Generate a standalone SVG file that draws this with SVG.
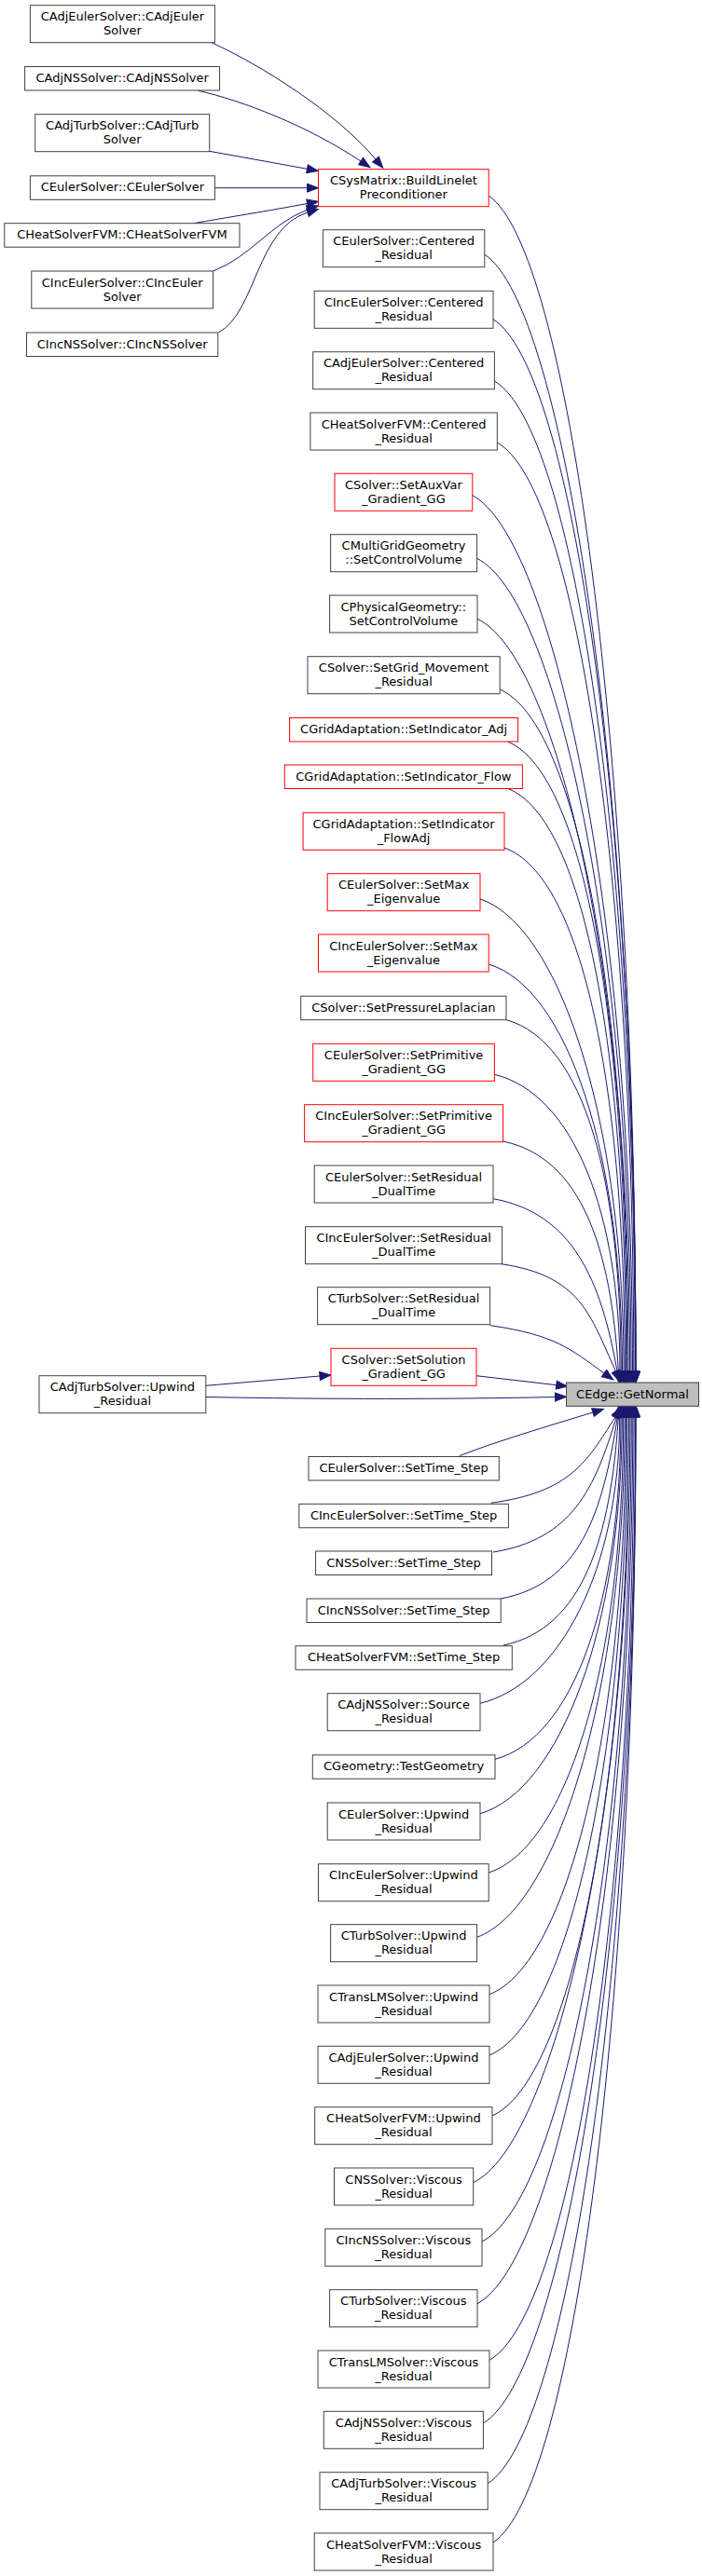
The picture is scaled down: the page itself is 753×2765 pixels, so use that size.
<svg xmlns="http://www.w3.org/2000/svg" width="753" height="2765" viewBox="0 0 753 2765">
<style>
text{font-family:"DejaVu Sans","Liberation Sans",sans-serif;font-size:13px;text-anchor:middle;fill:#000}
.n rect{fill:#fff;stroke:#404040;stroke-width:1}
.r rect{fill:#fff;stroke:#ff0000;stroke-width:1}
.c rect{fill:#bfbfbf;stroke:#404040;stroke-width:1}
#edges path{fill:none;stroke:#191970;stroke-width:1;marker-end:url(#ah)}
</style>
<defs>
<marker id="ah" viewBox="0 0 12 9" refX="0" refY="4.5" markerWidth="12" markerHeight="9" markerUnits="userSpaceOnUse" orient="auto" overflow="visible"><path d="M0,0 L12,4.5 L0,9 Z" fill="#191970" stroke="#191970" stroke-width="1"/></marker>
</defs>
<rect x="0" y="0" width="753" height="2765" fill="#fff"/>
<g id="edges">
<path d="M227,45.7 C280,70 360,120 403,171"/>
<path d="M212.6,97.3 C260,108 330,135 387,173"/>
<path d="M224.6,162.3 L329.5,181.3"/>
<path d="M230.4,201.7 L329.5,201.7"/>
<path d="M207.7,239.7 C240,234 290,226 329.6,218.5"/>
<path d="M228.5,291 C270,275 290,240 330,225"/>
<path d="M234.3,357 C275,335 275,245 330,228"/>
<path d="M524.2,210 C609,268.5 682,803 682,1472"/>
<path d="M520,273.3 C605,329.3 682,836.7 682,1472"/>
<path d="M529,342.7 C614,395.9 682,873.5 682,1472"/>
<path d="M530.4,409 C615.4,459.5 681.2,908.6 681.2,1472"/>
<path d="M533.3,475 C618.3,522.9 679.8,943.6 679.8,1472"/>
<path d="M506.8,531.7 C591.8,577.3 678.5,973.6 678.5,1472"/>
<path d="M511.6,599.3 C596.6,642.2 677,1009.5 677,1472"/>
<path d="M512,664.3 C597,704.6 675.6,1043.9 675.6,1472"/>
<path d="M536.2,740 C621.2,777.3 674,1084 674,1472"/>
<path d="M544.4,796 C629.4,831 672.8,1113.7 672.8,1472"/>
<path d="M544.4,846.3 C629.4,879.3 671.7,1140.4 671.7,1472"/>
<path d="M541,910 C626,940.5 670.3,1174.1 670.3,1472"/>
<path d="M515,965 C600,993.3 669.1,1203.3 669.1,1472"/>
<path d="M524.2,1035 C609.2,1060.5 667.5,1240.4 667.5,1472"/>
<path d="M543,1094.7 C628,1117.8 666.2,1272 666.2,1472"/>
<path d="M530.4,1153.3 C615.4,1174 665,1303.1 665,1472"/>
<path d="M539.6,1225 C624.6,1242.9 655.4,1341.1 663.4,1472"/>
<path d="M529,1286.7 C614,1302.1 644.8,1373.8 662,1472"/>
<path d="M537.7,1356.7 C622.7,1369.3 632.8,1410.9 660.5,1472"/>
<path d="M525.6,1422.7 C595.6,1432.7 612,1448 648,1474"/>
<path d="M511,1476.7 L596.8,1486.7"/>
<path d="M220.8,1487.3 L343,1477"/>
<path d="M220.8,1499.5 C350,1502 480,1502 595.5,1499.5"/>
<path d="M492.8,1562.7 C530,1548 590,1530 636,1516"/>
<path d="M526.6,1613.3 C611.6,1601.6 628.9,1569.9 660,1521"/>
<path d="M529,1666 C614,1652.2 637.9,1597.8 661.2,1521"/>
<path d="M537,1716 C622,1700.2 646.5,1624.4 662.3,1521"/>
<path d="M540,1766 C625,1748.2 655.1,1650.8 663.3,1521"/>
<path d="M515,1828.3 C600,1808 664.7,1683.9 664.7,1521"/>
<path d="M531,1888.3 C616,1865.6 666,1715.7 666,1521"/>
<path d="M515,1946.7 C600,1921.7 667.3,1746.6 667.3,1521"/>
<path d="M524.2,2010 C609.2,1982.4 668.7,1780.2 668.7,1521"/>
<path d="M511.6,2079.3 C596.6,2049 670.2,1816.9 670.2,1521"/>
<path d="M525,2140.7 C610,2107.9 671.5,1849.4 671.5,1521"/>
<path d="M525,2206 C610,2170.6 672.9,1884 672.9,1521"/>
<path d="M528,2271 C613,2233 674.4,1918.5 674.4,1521"/>
<path d="M507.7,2342.7 C592.7,2301.8 675.9,1956.5 675.9,1521"/>
<path d="M517,2406 C602,2362.6 677.3,1990 677.3,1521"/>
<path d="M512,2472.7 C597,2426.6 678.8,2025.4 678.8,1521"/>
<path d="M525,2533.3 C610,2484.8 680.1,2057.5 680.1,1521"/>
<path d="M518.4,2601 C603.4,2549.8 681.6,2093.4 681.6,1521"/>
<path d="M523.2,2665.7 C608.2,2611.9 682,2127.7 682,1521"/>
<path d="M529,2729 C614,2672.7 682,2161.2 682,1521"/>
</g>
<g id="n1" class="n"><rect x="32.4" y="5.7" width="198" height="40"/><text x="131.4" y="22.2">CAdjEulerSolver::CAdjEuler</text><text x="131.4" y="37.2">Solver</text></g>
<g id="n2" class="n"><rect x="26.6" y="71.5" width="209" height="25.5"/><text x="131.1" y="88">CAdjNSSolver::CAdjNSSolver</text></g>
<g id="n3" class="n"><rect x="37.7" y="122.7" width="187" height="40"/><text x="131.2" y="139.2">CAdjTurbSolver::CAdjTurb</text><text x="131.2" y="154.2">Solver</text></g>
<g id="n4" class="n"><rect x="32.4" y="188.8" width="198" height="25.5"/><text x="131.4" y="205.3">CEulerSolver::CEulerSolver</text></g>
<g id="n5" class="r"><rect x="341.5" y="181.7" width="182.7" height="40"/><text x="432.9" y="198.2">CSysMatrix::BuildLinelet</text><text x="432.9" y="213.2">Preconditioner</text></g>
<g id="n6" class="n"><rect x="4.8" y="239.7" width="252.2" height="25.5"/><text x="130.9" y="256.2">CHeatSolverFVM::CHeatSolverFVM</text></g>
<g id="n7" class="n"><rect x="33.8" y="291" width="194.7" height="40"/><text x="131.2" y="307.5">CIncEulerSolver::CIncEuler</text><text x="131.2" y="322.5">Solver</text></g>
<g id="n8" class="n"><rect x="28.5" y="357" width="205.3" height="25.5"/><text x="131.2" y="373.5">CIncNSSolver::CIncNSSolver</text></g>
<g id="n9" class="n"><rect x="346.4" y="246.7" width="173.4" height="40"/><text x="433.1" y="263.2">CEulerSolver::Centered</text><text x="433.1" y="278.2">_Residual</text></g>
<g id="n10" class="n"><rect x="337.2" y="312.3" width="191.8" height="40"/><text x="433.1" y="328.8">CIncEulerSolver::Centered</text><text x="433.1" y="343.8">_Residual</text></g>
<g id="n11" class="n"><rect x="335.7" y="377.7" width="194.7" height="40"/><text x="433.1" y="394.2">CAdjEulerSolver::Centered</text><text x="433.1" y="409.2">_Residual</text></g>
<g id="n12" class="n"><rect x="332.9" y="443" width="200.4" height="40"/><text x="433.1" y="459.5">CHeatSolverFVM::Centered</text><text x="433.1" y="474.5">_Residual</text></g>
<g id="n13" class="r"><rect x="359" y="508.3" width="147.8" height="40"/><text x="432.9" y="524.8">CSolver::SetAuxVar</text><text x="432.9" y="539.8">_Gradient_GG</text></g>
<g id="n14" class="n"><rect x="354.6" y="573.7" width="157" height="40"/><text x="433.1" y="590.2">CMultiGridGeometry</text><text x="433.1" y="605.2">::SetControlVolume</text></g>
<g id="n15" class="n"><rect x="353.6" y="639" width="158.4" height="40"/><text x="432.8" y="655.5">CPhysicalGeometry::</text><text x="432.8" y="670.5">SetControlVolume</text></g>
<g id="n16" class="n"><rect x="330" y="704.7" width="206.2" height="40"/><text x="433.1" y="721.2">CSolver::SetGrid_Movement</text><text x="433.1" y="736.2">_Residual</text></g>
<g id="n17" class="r"><rect x="310.6" y="770.5" width="245" height="25.5"/><text x="433.1" y="787">CGridAdaptation::SetIndicator_Adj</text></g>
<g id="n18" class="r"><rect x="305.3" y="821" width="255.1" height="25.5"/><text x="432.9" y="837.5">CGridAdaptation::SetIndicator_Flow</text></g>
<g id="n19" class="r"><rect x="325.1" y="872.3" width="215.9" height="40"/><text x="433" y="888.8">CGridAdaptation::SetIndicator</text><text x="433" y="903.8">_FlowAdj</text></g>
<g id="n20" class="r"><rect x="351.2" y="937.7" width="163.8" height="40"/><text x="433.1" y="954.2">CEulerSolver::SetMax</text><text x="433.1" y="969.2">_Eigenvalue</text></g>
<g id="n21" class="r"><rect x="341.5" y="1003" width="182.7" height="40"/><text x="432.9" y="1019.5">CIncEulerSolver::SetMax</text><text x="432.9" y="1034.5">_Eigenvalue</text></g>
<g id="n22" class="n"><rect x="322.7" y="1069.2" width="220.3" height="25.5"/><text x="432.9" y="1085.7">CSolver::SetPressureLaplacian</text></g>
<g id="n23" class="r"><rect x="335.7" y="1120.3" width="194.7" height="40"/><text x="433.1" y="1136.8">CEulerSolver::SetPrimitive</text><text x="433.1" y="1151.8">_Gradient_GG</text></g>
<g id="n24" class="r"><rect x="326.6" y="1185.7" width="213" height="40"/><text x="433.1" y="1202.2">CIncEulerSolver::SetPrimitive</text><text x="433.1" y="1217.2">_Gradient_GG</text></g>
<g id="n25" class="n"><rect x="337.2" y="1251" width="191.8" height="40"/><text x="433.1" y="1267.5">CEulerSolver::SetResidual</text><text x="433.1" y="1282.5">_DualTime</text></g>
<g id="n26" class="n"><rect x="327.5" y="1316.7" width="211.1" height="40"/><text x="433.1" y="1333.2">CIncEulerSolver::SetResidual</text><text x="433.1" y="1348.2">_DualTime</text></g>
<g id="n27" class="n"><rect x="340.6" y="1381.7" width="185" height="40"/><text x="433.1" y="1398.2">CTurbSolver::SetResidual</text><text x="433.1" y="1413.2">_DualTime</text></g>
<g id="n28" class="r"><rect x="355" y="1447.3" width="156" height="40"/><text x="433" y="1463.8">CSolver::SetSolution</text><text x="433" y="1478.8">_Gradient_GG</text></g>
<g id="n29" class="n"><rect x="42" y="1476.7" width="178.8" height="40"/><text x="131.4" y="1493.2">CAdjTurbSolver::Upwind</text><text x="131.4" y="1508.2">_Residual</text></g>
<g id="n30" class="c"><rect x="607.5" y="1484" width="142" height="25.3"/><text x="678.5" y="1500.5">CEdge::GetNormal</text></g>
<g id="n31" class="n"><rect x="331" y="1563.5" width="204.3" height="25.5"/><text x="433.1" y="1580">CEulerSolver::SetTime_Step</text></g>
<g id="n32" class="n"><rect x="320.8" y="1614.3" width="224.6" height="25.5"/><text x="433.1" y="1630.8">CIncEulerSolver::SetTime_Step</text></g>
<g id="n33" class="n"><rect x="338.6" y="1665" width="188.9" height="25.5"/><text x="433" y="1681.5">CNSSolver::SetTime_Step</text></g>
<g id="n34" class="n"><rect x="329" y="1716" width="208.2" height="25.5"/><text x="433.1" y="1732.5">CIncNSSolver::SetTime_Step</text></g>
<g id="n35" class="n"><rect x="317" y="1766.7" width="232.3" height="25.5"/><text x="433.1" y="1783.2">CHeatSolverFVM::SetTime_Step</text></g>
<g id="n36" class="n"><rect x="351.2" y="1817.7" width="163.8" height="40"/><text x="433.1" y="1834.2">CAdjNSSolver::Source</text><text x="433.1" y="1849.2">_Residual</text></g>
<g id="n37" class="n"><rect x="335.3" y="1883.8" width="195.7" height="25.5"/><text x="433.1" y="1900.3">CGeometry::TestGeometry</text></g>
<g id="n38" class="n"><rect x="351.2" y="1935" width="163.8" height="40"/><text x="433.1" y="1951.5">CEulerSolver::Upwind</text><text x="433.1" y="1966.5">_Residual</text></g>
<g id="n39" class="n"><rect x="341.5" y="2000.7" width="182.7" height="40"/><text x="432.9" y="2017.2">CIncEulerSolver::Upwind</text><text x="432.9" y="2032.2">_Residual</text></g>
<g id="n40" class="n"><rect x="354.6" y="2065.7" width="157" height="40"/><text x="433.1" y="2082.2">CTurbSolver::Upwind</text><text x="433.1" y="2097.2">_Residual</text></g>
<g id="n41" class="n"><rect x="341" y="2131" width="184" height="40"/><text x="433" y="2147.5">CTransLMSolver::Upwind</text><text x="433" y="2162.5">_Residual</text></g>
<g id="n42" class="n"><rect x="341" y="2196.3" width="184" height="40"/><text x="433" y="2212.8">CAdjEulerSolver::Upwind</text><text x="433" y="2227.8">_Residual</text></g>
<g id="n43" class="n"><rect x="337.7" y="2261.7" width="190.3" height="40"/><text x="432.9" y="2278.2">CHeatSolverFVM::Upwind</text><text x="432.9" y="2293.2">_Residual</text></g>
<g id="n44" class="n"><rect x="358.5" y="2327" width="149.2" height="40"/><text x="433.1" y="2343.5">CNSSolver::Viscous</text><text x="433.1" y="2358.5">_Residual</text></g>
<g id="n45" class="n"><rect x="348.8" y="2392.3" width="168.2" height="40"/><text x="432.9" y="2408.8">CIncNSSolver::Viscous</text><text x="432.9" y="2423.8">_Residual</text></g>
<g id="n46" class="n"><rect x="353.6" y="2457.7" width="158.4" height="40"/><text x="432.8" y="2474.2">CTurbSolver::Viscous</text><text x="432.8" y="2489.2">_Residual</text></g>
<g id="n47" class="n"><rect x="341" y="2523" width="184" height="40"/><text x="433" y="2539.5">CTransLMSolver::Viscous</text><text x="433" y="2554.5">_Residual</text></g>
<g id="n48" class="n"><rect x="347.3" y="2588.3" width="171.1" height="40"/><text x="432.9" y="2604.8">CAdjNSSolver::Viscous</text><text x="432.9" y="2619.8">_Residual</text></g>
<g id="n49" class="n"><rect x="343" y="2653.7" width="180.2" height="40"/><text x="433.1" y="2670.2">CAdjTurbSolver::Viscous</text><text x="433.1" y="2685.2">_Residual</text></g>
<g id="n50" class="n"><rect x="337.2" y="2719" width="191.8" height="40"/><text x="433.1" y="2735.5">CHeatSolverFVM::Viscous</text><text x="433.1" y="2750.5">_Residual</text></g>
</svg>
